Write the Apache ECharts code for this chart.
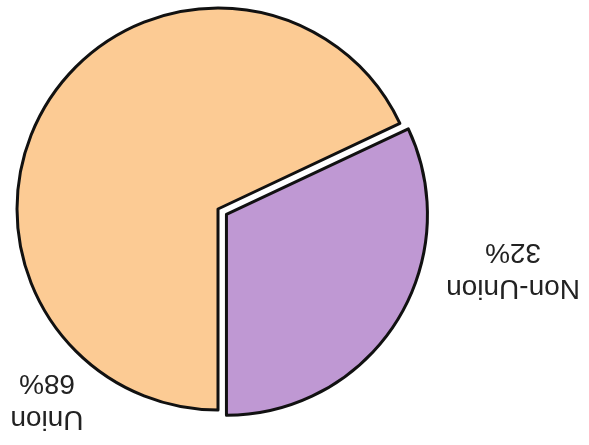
<!DOCTYPE html>
<html>
<head>
<meta charset="utf-8">
<script src="https://cdn.jsdelivr.net/npm/echarts@6/dist/echarts.min.js"></script>
<style>
html,body{margin:0;padding:0;background:#fff;}
#c{width:589px;height:445px;}
</style>
</head>
<body>
<div id="c"></div>
<script>
const categories = ['Union', 'Non-Union'];
const values = [68, 32];
const colors = ['#FCCB94', '#BF98D3'];

const labelSpots = [[47, 401], [513, 270]];

const chart = echarts.init(document.getElementById('c'), null, {renderer: 'canvas'});
chart.setOption({
  animation: false,
  backgroundColor: '#ffffff',
  graphic: categories.map((c, i) => ({
    type: 'text',
    x: labelSpots[i][0],
    y: labelSpots[i][1],
    rotation: Math.PI,
    silent: true,
    z: 10,
    style: {
      text: c + '\n' + values[i] + '%',
      x: 0,
      y: 0,
      align: 'center',
      verticalAlign: 'middle',
      font: '28px "Liberation Sans", Arial, sans-serif',
      lineHeight: 36,
      fill: '#222'
    }
  })),
  series: [{
    type: 'pie',
    center: [218, 209],
    radius: 201,
    startAngle: 270,
    clockwise: true,
    selectedMode: 'multiple',
    selectedOffset: 10,
    emphasis: {disabled: true},
    itemStyle: {borderColor: '#111', borderWidth: 3},
    label: {show: false},
    labelLine: {show: false},
    data: categories.map((c, i) => ({
      name: c,
      value: values[i],
      selected: i === 1,
      itemStyle: {color: colors[i]}
    }))
  }]
});
</script>
</body>
</html>
